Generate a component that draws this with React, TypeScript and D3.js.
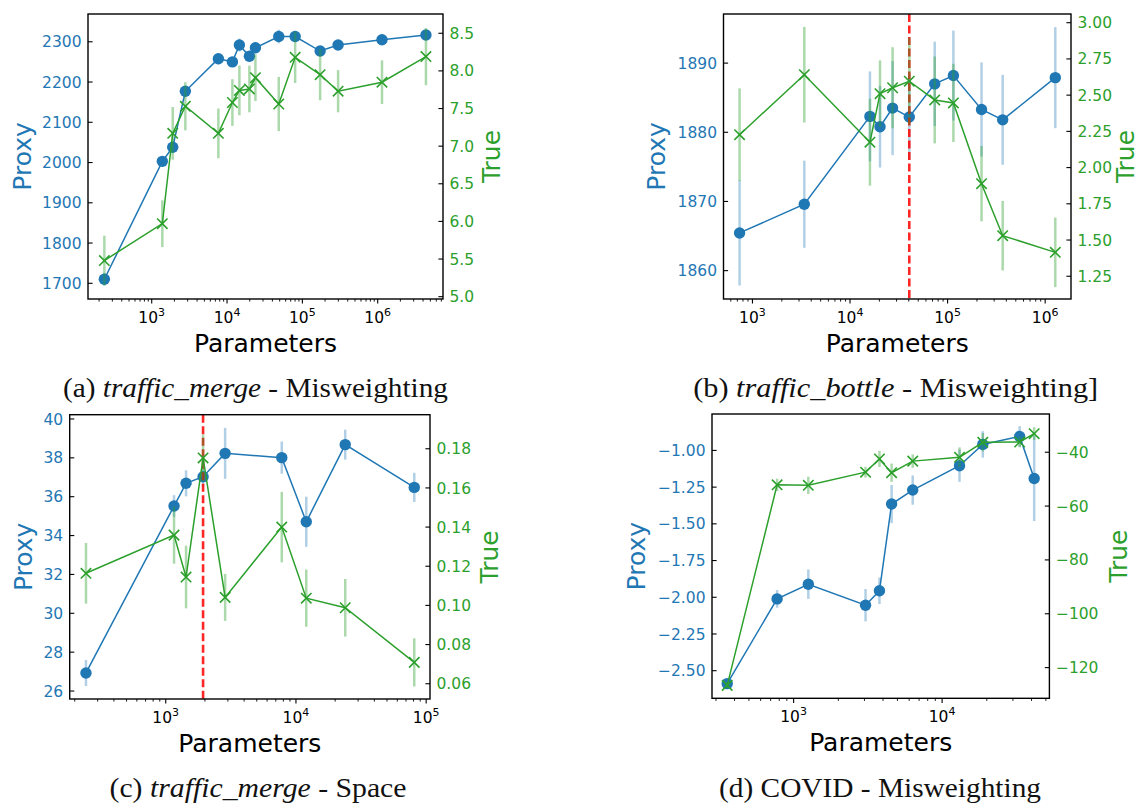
import React, { useRef, useEffect } from 'react';
import * as d3 from 'd3';

const blue = '#1f77b4';
const green = '#2ca02c';

// (a) traffic_merge - Misweighting
const aParams = [235, 1383, 1900, 2795, 7670, 11780, 14580, 19800, 23800, 48600, 80200, 172000, 298000, 1140000, 4370000];
const aProxy = [1710, 2003, 2038, 2177, 2258, 2250, 2292, 2264, 2285, 2313, 2313, 2277, 2292, 2305, 2317];
const aProxyErr = [16, 12, 12, 12, 14, 10, 16, 12, 14, 17, 12, 12, 12, 10, 12];
const aTrue = [5.48, 5.97, 7.17, 7.53, 7.17, 7.58, 7.74, 7.76, 7.91, 7.56, 8.18, 7.95, 7.73, 7.85, 8.19];
const aTrueErr = [0.33, 0.31, 0.35, 0.32, 0.33, 0.31, 0.33, 0.31, 0.31, 0.36, 0.34, 0.34, 0.28, 0.29, 0.38];
const aProxyTicks = [1700, 1800, 1900, 2000, 2100, 2200, 2300];
const aTrueTicks = [5.0, 5.5, 6.0, 6.5, 7.0, 7.5, 8.0, 8.5];
const aDecades = [3, 4, 5, 6];

// (b) traffic_bottle - Misweighting
const bParams = [738, 3400, 16000, 20300, 27300, 40500, 73800, 114700, 222800, 367000, 1270000];
const bProxy = [1865.45, 1869.6, 1882.3, 1880.8, 1883.5, 1882.2, 1887.0, 1888.2, 1883.3, 1881.8, 1887.9];
const bProxyErr = [7.6, 6.3, 6.5, 5.9, 6.8, 6.2, 6.1, 6.5, 6.8, 6.5, 7.3];
const bTrue = [2.227, 2.641, 2.175, 2.51, 2.551, 2.596, 2.467, 2.446, 1.889, 1.53, 1.415];
const bTrueErr = [0.32, 0.33, 0.3, 0.23, 0.28, 0.3, 0.3, 0.27, 0.26, 0.24, 0.24];
const bProxyTicks = [1860, 1870, 1880, 1890];
const bTrueTicks = [1.25, 1.5, 1.75, 2.0, 2.25, 2.5, 2.75, 3.0];
const bDecades = [3, 4, 5, 6];
const bChosen = 40500;

// (c) traffic_merge - Space
const cParams = [244, 1158, 1432, 1935, 2858, 7780, 12000, 23900, 81000];
const cProxy = [26.93, 35.52, 36.69, 37.03, 38.23, 38.01, 34.71, 38.68, 36.48];
const cProxyErr = [0.67, 0.56, 0.67, 0.5, 1.31, 0.83, 1.29, 0.77, 0.75];
const cTrue = [0.1164, 0.1359, 0.1145, 0.1753, 0.1041, 0.14, 0.1037, 0.0988, 0.0709];
const cTrueErr = [0.0155, 0.0146, 0.016, 0.012, 0.012, 0.018, 0.0146, 0.0147, 0.0123];
const cProxyTicks = [26, 28, 30, 32, 34, 36, 38, 40];
const cTrueTicks = [0.06, 0.08, 0.1, 0.12, 0.14, 0.16, 0.18];
const cDecades = [3, 4, 5];
const cChosen = 1935;

// (d) COVID - Misweighting
const dParams = [357, 774, 1256, 3050, 3785, 4570, 6340, 13100, 18800, 33300, 41700];
const dProxy = [-2.588, -2.011, -1.911, -2.054, -1.956, -1.365, -1.27, -1.104, -0.959, -0.905, -1.191];
const dProxyErr = [0.03, 0.06, 0.1, 0.11, 0.09, 0.13, 0.1, 0.11, 0.09, 0.07, 0.29];
const dTrue = [-126.6, -52.1, -52.3, -47.4, -42.5, -47.6, -43.3, -41.9, -36.3, -36.2, -33.1];
const dTrueErr = [1, 2.3, 3.2, 2, 3, 3.4, 2.5, 3.7, 3.4, 2, 2.4];
const dProxyTicks = [-2.5, -2.25, -2.0, -1.75, -1.5, -1.25, -1.0];
const dTrueTicks = [-120, -100, -80, -60, -40];
const dDecades = [3, 4];

const panels = [
  {
    params: aParams, proxy: aProxy, proxyErr: aProxyErr, truth: aTrue, truthErr: aTrueErr,
    proxyTicks: aProxyTicks, trueTicks: aTrueTicks, decades: aDecades, chosen: null,
    proxyFmt: d3.format('d'), trueFmt: d3.format('.1f'),
    box: { left: 88, right: 443, top: 14, bottom: 299 },
    xDomain: [142.6, 7.36e6], proxyDomain: [1661, 2369], trueDomain: [4.969, 8.756],
    proxyLabelX: 31, trueLabelX: 500,
    caption: { label: '(a) ', it: 'traffic_merge', rest: ' - Misweighting', cx: 255.5, y: 396.5, len: 385 },
  },
  {
    params: bParams, proxy: bProxy, proxyErr: bProxyErr, truth: bTrue, truthErr: bTrueErr,
    proxyTicks: bProxyTicks, trueTicks: bTrueTicks, decades: bDecades, chosen: bChosen,
    proxyFmt: d3.format('d'), trueFmt: d3.format('.2f'),
    box: { left: 723.5, right: 1071, top: 14, bottom: 299 },
    xDomain: [505, 1.84e6], proxyDomain: [1855.9, 1897.1], trueDomain: [1.093, 3.06],
    proxyLabelX: 665, trueLabelX: 1134,
    caption: { label: '(b) ', it: 'traffic_bottle', rest: ' - Misweighting]', cx: 895.7, y: 396.5, len: 405 },
  },
  {
    params: cParams, proxy: cProxy, proxyErr: cProxyErr, truth: cTrue, truthErr: cTrueErr,
    proxyTicks: cProxyTicks, trueTicks: cTrueTicks, decades: cDecades, chosen: cChosen,
    proxyFmt: d3.format('d'), trueFmt: d3.format('.2f'),
    box: { left: 69.7, right: 430, top: 414.7, bottom: 699 },
    xDomain: [183, 107000], proxyDomain: [25.59, 40.22], trueDomain: [0.0522, 0.1974],
    proxyLabelX: 31.5, trueLabelX: 498,
    caption: { label: '(c) ', it: 'traffic_merge', rest: ' - Space', cx: 258, y: 796.5, len: 297 },
  },
  {
    params: dParams, proxy: dProxy, proxyErr: dProxyErr, truth: dTrue, truthErr: dTrueErr,
    proxyTicks: dProxyTicks, trueTicks: dTrueTicks, decades: dDecades, chosen: null,
    proxyFmt: d3.format('.2f'), trueFmt: d3.format('d'),
    box: { left: 712, right: 1049.4, top: 414, bottom: 698.3 },
    xDomain: [282, 52800], proxyDomain: [-2.688, -0.752], trueDomain: [-131.4, -25.8],
    proxyLabelX: 645, trueLabelX: 1127,
    caption: { label: '(d) COVID - Misweighting', it: '', rest: '', cx: 880, y: 796.5, len: 322 },
  },
];

const App = () => {
  const svgRef = useRef(null);

  useEffect(() => {
    const svg = d3.select(svgRef.current);
    svg.selectAll('*').remove();
    const font = 'DejaVu Sans';

    panels.forEach(p => {
      const { left, right, top, bottom } = p.box;
      const g = svg.append('g');
      const x = d3.scaleLog().domain(p.xDomain).range([left, right]);
      const yP = d3.scaleLinear().domain(p.proxyDomain).range([bottom, top]);
      const yT = d3.scaleLinear().domain(p.trueDomain).range([bottom, top]);
      const pts = p.params.map((n, i) => ({
        n, proxy: p.proxy[i], pe: p.proxyErr[i], truth: p.truth[i], te: p.truthErr[i],
      }));

      // proxy series
      g.append('g').selectAll('line').data(pts).join('line')
        .attr('x1', d => x(d.n)).attr('x2', d => x(d.n))
        .attr('y1', d => yP(d.proxy - d.pe)).attr('y2', d => yP(d.proxy + d.pe))
        .attr('stroke', blue).attr('stroke-opacity', 0.35).attr('stroke-width', 2.5);
      g.append('path').datum(pts)
        .attr('d', d3.line<any>().x(d => x(d.n)).y(d => yP(d.proxy)))
        .attr('fill', 'none').attr('stroke', blue).attr('stroke-width', 1.5);
      g.append('g').selectAll('circle').data(pts).join('circle')
        .attr('cx', d => x(d.n)).attr('cy', d => yP(d.proxy))
        .attr('r', 5.7).attr('fill', blue);

      // chosen model size
      if (p.chosen) {
        g.append('line')
          .attr('x1', x(p.chosen)).attr('x2', x(p.chosen))
          .attr('y1', top).attr('y2', bottom)
          .attr('stroke', 'red').attr('stroke-opacity', 0.85)
          .attr('stroke-width', 2.6).attr('stroke-dasharray', '8,3.5');
      }

      // true series (twin axis)
      g.append('g').selectAll('line').data(pts).join('line')
        .attr('x1', d => x(d.n)).attr('x2', d => x(d.n))
        .attr('y1', d => yT(d.truth - d.te)).attr('y2', d => yT(d.truth + d.te))
        .attr('stroke', green).attr('stroke-opacity', 0.4).attr('stroke-width', 2.5);
      g.append('path').datum(pts)
        .attr('d', d3.line<any>().x(d => x(d.n)).y(d => yT(d.truth)))
        .attr('fill', 'none').attr('stroke', green).attr('stroke-width', 1.5);
      g.append('g').selectAll('path').data(pts).join('path')
        .attr('transform', d => `translate(${x(d.n)},${yT(d.truth)})`)
        .attr('d', 'M-5.2,-5.2L5.2,5.2M-5.2,5.2L5.2,-5.2')
        .attr('stroke', green).attr('stroke-width', 1.6).attr('fill', 'none');

      // frame
      g.append('rect')
        .attr('x', left).attr('y', top).attr('width', right - left).attr('height', bottom - top)
        .attr('fill', 'none').attr('stroke', 'black').attr('stroke-width', 1.4);

      // x axis: log ticks
      const [x0, x1] = p.xDomain;
      const minor: number[] = [];
      for (let k = Math.floor(Math.log10(x0)); k <= Math.ceil(Math.log10(x1)); k++) {
        for (let m = 2; m <= 9; m++) {
          const v = m * Math.pow(10, k);
          if (v >= x0 && v <= x1) minor.push(v);
        }
      }
      g.append('g').selectAll('line').data(minor).join('line')
        .attr('x1', d => x(d)).attr('x2', d => x(d))
        .attr('y1', bottom).attr('y2', bottom + 2.6)
        .attr('stroke', 'black').attr('stroke-width', 0.9);
      g.append('g').selectAll('line').data(p.decades).join('line')
        .attr('x1', d => x(Math.pow(10, d))).attr('x2', d => x(Math.pow(10, d)))
        .attr('y1', bottom).attr('y2', bottom + 4.6)
        .attr('stroke', 'black').attr('stroke-width', 1.1);
      const xl = g.append('g').selectAll('text').data(p.decades).join('text')
        .attr('x', d => x(Math.pow(10, d))).attr('y', bottom + 23.5)
        .attr('text-anchor', 'middle').attr('font-family', font)
        .attr('font-size', 15.5).attr('fill', 'black');
      xl.append('tspan').text('10');
      xl.append('tspan').attr('dy', -6.5).attr('font-size', 11).text(d => d);

      // left (proxy) axis
      g.append('g').selectAll('line').data(p.proxyTicks).join('line')
        .attr('x1', left).attr('x2', left + 4.6)
        .attr('y1', d => yP(d)).attr('y2', d => yP(d))
        .attr('stroke', 'black').attr('stroke-width', 1.1);
      g.append('g').selectAll('text').data(p.proxyTicks).join('text')
        .attr('x', left - 6.5).attr('y', d => yP(d))
        .attr('dy', '0.36em').attr('text-anchor', 'end')
        .attr('font-family', font).attr('font-size', 15.5).attr('fill', blue)
        .text(d => p.proxyFmt(d));

      // right (true) axis
      g.append('g').selectAll('line').data(p.trueTicks).join('line')
        .attr('x1', right - 4.6).attr('x2', right)
        .attr('y1', d => yT(d)).attr('y2', d => yT(d))
        .attr('stroke', 'black').attr('stroke-width', 1.1);
      g.append('g').selectAll('text').data(p.trueTicks).join('text')
        .attr('x', right + 6.5).attr('y', d => yT(d))
        .attr('dy', '0.36em').attr('text-anchor', 'start')
        .attr('font-family', font).attr('font-size', 15.5).attr('fill', green)
        .text(d => p.trueFmt(d));

      // axis titles
      const midY = (top + bottom) / 2;
      g.append('text')
        .attr('transform', `translate(${p.proxyLabelX},${midY}) rotate(-90)`)
        .attr('text-anchor', 'middle').attr('font-family', font).attr('font-size', 25)
        .attr('fill', blue).text('Proxy');
      g.append('text')
        .attr('transform', `translate(${p.trueLabelX},${midY}) rotate(-90)`)
        .attr('text-anchor', 'middle').attr('font-family', font).attr('font-size', 25)
        .attr('fill', green).text('True');
      g.append('text')
        .attr('x', (left + right) / 2).attr('y', bottom + 53)
        .attr('text-anchor', 'middle').attr('font-family', font).attr('font-size', 25)
        .attr('fill', 'black').text('Parameters');

      // caption
      const c = p.caption;
      const cap = g.append('text')
        .attr('x', c.cx).attr('y', c.y).attr('text-anchor', 'middle')
        .attr('font-family', 'Liberation Serif').attr('font-size', 27).attr('fill', '#111')
        .attr('textLength', c.len).attr('lengthAdjust', 'spacingAndGlyphs');
      cap.append('tspan').text(c.label);
      if (c.it) cap.append('tspan').attr('font-style', 'italic').text(c.it);
      if (c.rest) cap.append('tspan').text(c.rest);
    });
  }, []);

  return (
    <svg
      ref={svgRef}
      width={1141}
      height={803}
      style={{ position: 'absolute', left: 0, top: 0, background: 'white' }}
    />
  );
};

export default App;
